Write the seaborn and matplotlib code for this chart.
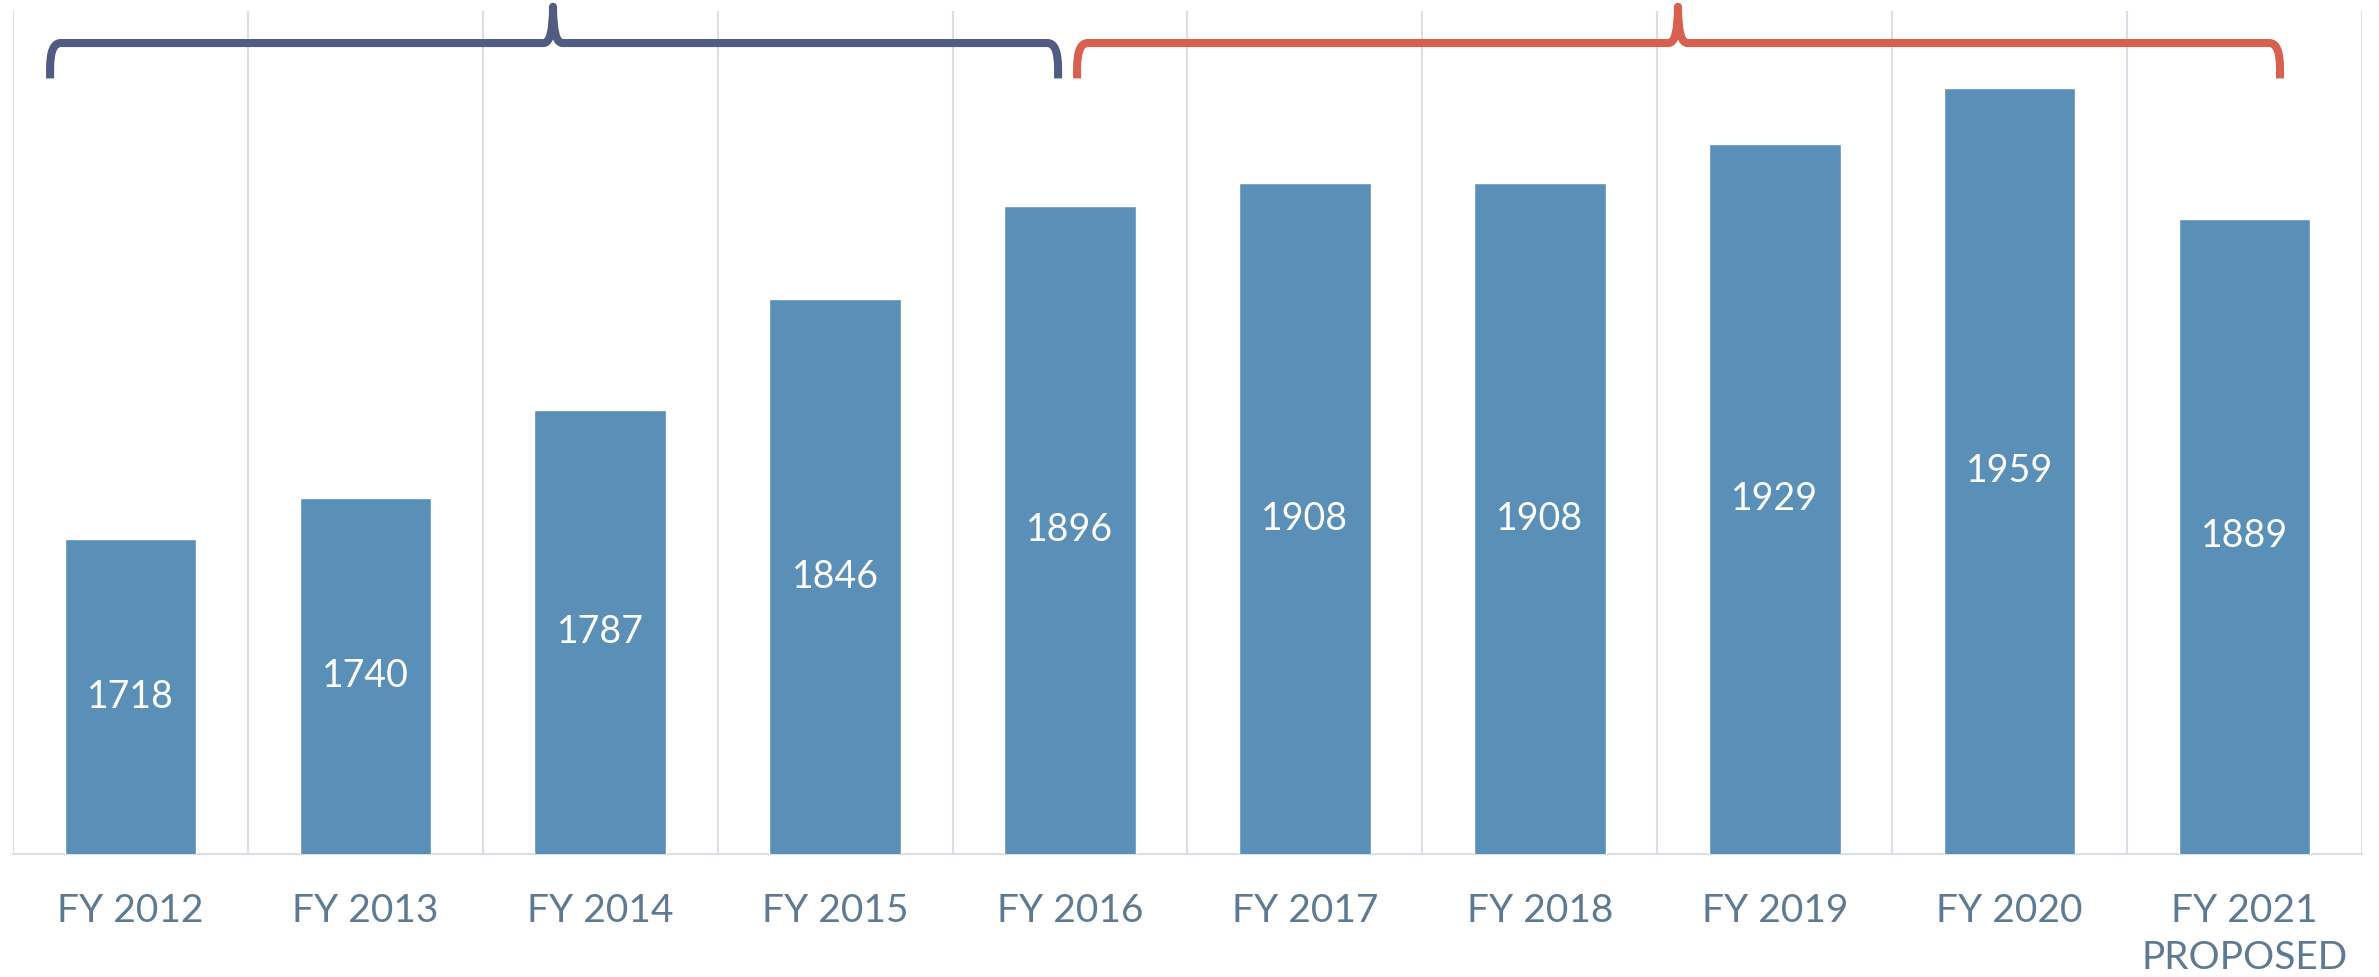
import numpy as np
import pandas as pd
import seaborn as sns
import matplotlib.pyplot as plt
from matplotlib.path import Path
from matplotlib.patches import PathPatch
import matplotlib.transforms as mtransforms

# data
years = ['FY 2012', 'FY 2013', 'FY 2014', 'FY 2015', 'FY 2016',
         'FY 2017', 'FY 2018', 'FY 2019', 'FY 2020', 'FY 2021\nPROPOSED']
values = [1718, 1740, 1787, 1846, 1896, 1908, 1908, 1929, 1959, 1889]
y_range = (1550, 2000)

BAR = '#5A90B8'
NAVY = '#525B82'
RED = '#D95F4E'
GRID = '#D9DFE7'
TICK = '#5E7A93'


def draw_brace(ax, x0, xm, x1, color, yb=0.92, yh=0.962, yt=1.005, rx=0.045, ry=0.03, tx=0.04):
    '''
    Curly brace: x in data units, y in axes fraction
    '''
    trans = mtransforms.blended_transform_factory(ax.transData, ax.transAxes)
    verts = [
        (x0, yb), (x0, yh - ry),
        (x0, yh), (x0 + rx, yh),
        (xm - tx, yh),
        (xm, yh), (xm, yt),
        (xm, yh), (xm + tx, yh),
        (x1 - rx, yh),
        (x1, yh), (x1, yh - ry),
        (x1, yb),
    ]
    codes = [Path.MOVETO, Path.LINETO,
             Path.CURVE3, Path.CURVE3,
             Path.LINETO,
             Path.CURVE3, Path.CURVE3,
             Path.CURVE3, Path.CURVE3,
             Path.LINETO,
             Path.CURVE3, Path.CURVE3,
             Path.LINETO]
    patch = PathPatch(Path(verts, codes), transform=trans, facecolor='none',
                      edgecolor=color, lw=5.8, clip_on=False,
                      joinstyle='round', capstyle='butt')
    ax.add_patch(patch)


sns.set_style('white')
plt.rcParams['font.family'] = ['Lato', 'DejaVu Sans']

df = pd.DataFrame({'year': years, 'value': values})

fig = plt.figure(figsize=(23.79, 9.77), dpi=100)
ax = fig.add_axes([0.00546, 0.1259, 0.98739, 0.86284])

sns.barplot(data=df, x='year', y='value', color=BAR, width=0.56,
            saturation=1, ax=ax, zorder=3)

ax.set_ylim(y_range)
ax.set_xlim(-0.5, len(years) - 0.5)

# labels centered in the visible part of each bar
for i, v in enumerate(values):
    ax.text(i, (y_range[0] + v) / 2, str(v), ha='center', va='center',
            color='white', fontsize=27, zorder=4)

# vertical gridlines between categories
ax.set_xticks(np.arange(-0.5, len(years), 1), minor=True)
ax.grid(which='minor', axis='x', color=GRID, lw=1.5, zorder=0)
ax.grid(which='major', visible=False)
ax.set_yticks([])

for side in ['top', 'left', 'right']:
    ax.spines[side].set_visible(False)
ax.spines['bottom'].set_color(GRID)
ax.spines['bottom'].set_linewidth(1.5)

ax.tick_params(axis='x', which='both', length=0, pad=28, labelsize=28,
               labelcolor=TICK)
for lbl in ax.get_xticklabels():
    lbl.set_linespacing(1.4)
    lbl.set_verticalalignment('top')

ax.set_xlabel('')
ax.set_ylabel('')

draw_brace(ax, -0.342, 1.799, 3.949, NAVY)
draw_brace(ax, 4.03, 6.588, 9.151, RED)

fig.savefig('out.png', dpi=100)
